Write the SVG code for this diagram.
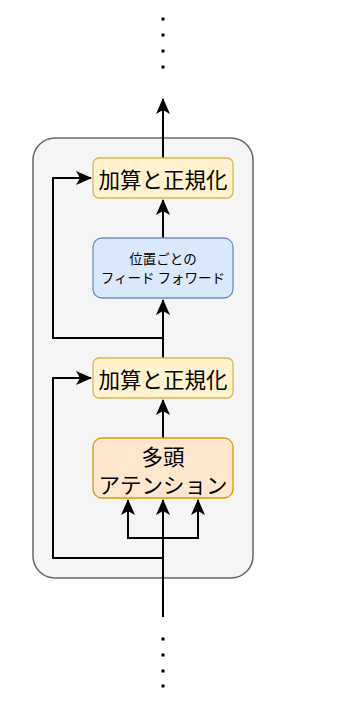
<svg xmlns="http://www.w3.org/2000/svg" width="338" height="704" viewBox="0 0 338 704">
<defs>
<marker id="ah" viewBox="0 0 16 14" refX="15" refY="7" markerWidth="16" markerHeight="14" markerUnits="userSpaceOnUse" orient="auto">
<path d="M0,0 L16,7 L0,14 L4,7 Z" fill="#000"/>
</marker>
<style>
.an{fill:#fff2cc;stroke:#d6b656;stroke-width:1.3}
.ff{fill:#dae8fc;stroke:#6c8ebf;stroke-width:1.3}
.mh{fill:#ffe6cc;stroke:#d79b00;stroke-width:1.3}
.t{font-family:"Noto Sans CJK JP","Noto Sans",sans-serif;fill:#000;text-anchor:middle;dominant-baseline:central}
.big{font-size:21.5px}
.sm{font-size:13.5px}
.c{fill:none;stroke:#000;stroke-width:2}
.dot{fill:#000}
</style>
</defs>
<g id="block"><rect x="33" y="138" width="220" height="440" rx="22" fill="#f5f5f5" stroke="#666" stroke-width="1.5"/></g>
<g id="connectors">
<path class="c" d="M163,617 L163,500" marker-end="url(#ah)"/>
<path class="c" d="M163,538 L128,538 L128,500" marker-end="url(#ah)"/>
<path class="c" d="M163,538 L198,538 L198,500" marker-end="url(#ah)"/>
<path class="c" d="M163,558 L53,558 L53,378 L91,378" marker-end="url(#ah)"/>
<path class="c" d="M163,438 L163,400" marker-end="url(#ah)"/>
<path class="c" d="M163,358 L163,300" marker-end="url(#ah)"/>
<path class="c" d="M163,338 L53,338 L53,178 L91,178" marker-end="url(#ah)"/>
<path class="c" d="M163,238 L163,200" marker-end="url(#ah)"/>
<path class="c" d="M163,158 L163,99" marker-end="url(#ah)"/>
</g>
<g id="addnorm2"><rect class="an" x="93" y="158" width="140" height="40" rx="6"/><text class="t big" x="163" y="178">加算と正規化</text></g>
<g id="ffn"><rect class="ff" x="93" y="238" width="140" height="60" rx="9"/><text class="t sm" x="163" y="258">位置ごとの</text><text class="t sm" x="163" y="277">フィード フォワード</text></g>
<g id="addnorm1"><rect class="an" x="93" y="358" width="140" height="40" rx="6"/><text class="t big" x="163" y="378">加算と正規化</text></g>
<g id="mha"><rect class="mh" x="93" y="438" width="140" height="60" rx="9"/><text class="t big" x="163" y="455">多頭</text><text class="t big" x="163" y="483">アテンション</text></g>
<g id="dots-top"><rect class="dot" x="161.5" y="17.5" width="3" height="3"/><rect class="dot" x="161.5" y="33.5" width="3" height="3"/><rect class="dot" x="161.5" y="49.5" width="3" height="3"/><rect class="dot" x="161.5" y="65.5" width="3" height="3"/></g>
<g id="dots-bottom"><rect class="dot" x="161.5" y="637.5" width="3" height="3"/><rect class="dot" x="161.5" y="653.5" width="3" height="3"/><rect class="dot" x="161.5" y="669.5" width="3" height="3"/><rect class="dot" x="161.5" y="684.5" width="3" height="3"/></g>
</svg>
